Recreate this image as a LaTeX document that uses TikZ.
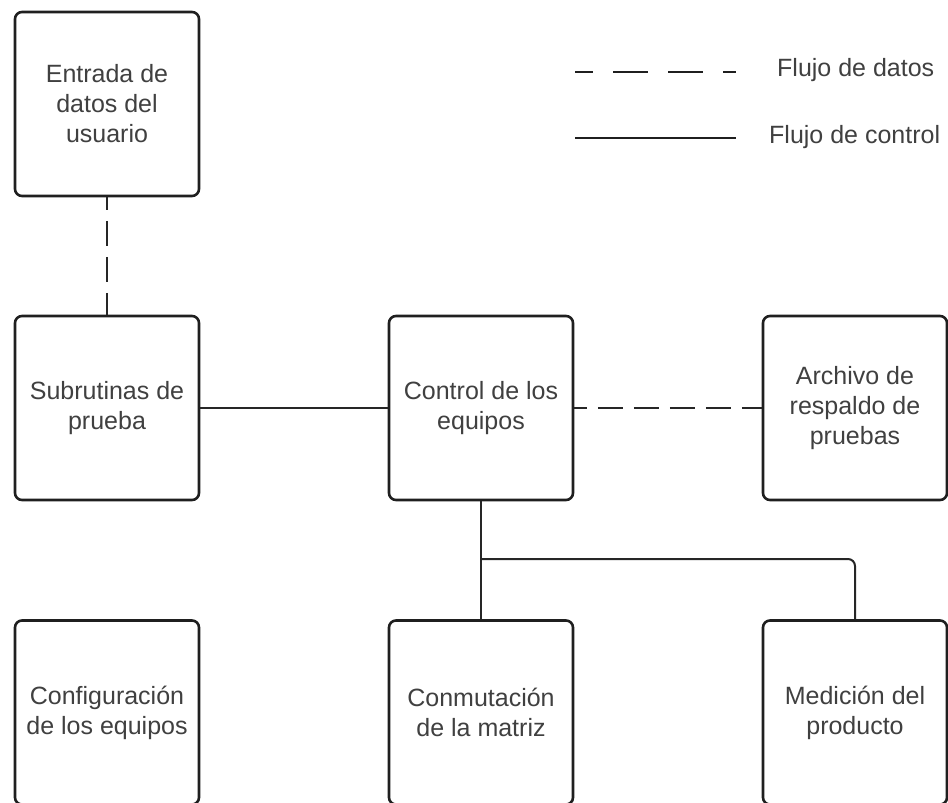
\documentclass[tikz,border=0pt]{standalone}
\usepackage{fontspec}
\setmainfont{Liberation Sans}
\begin{document}
\begin{tikzpicture}[x=1pt,y=-1pt,
  box/.style={draw=black!88, line width=2.6pt, rounded corners=7pt, fill=white,
    minimum width=184pt, minimum height=184pt, inner sep=0pt, align=center,
    text=black!75, font=\fontsize{25}{30}\selectfont},
  ctrl/.style={draw=black!85, line width=2pt},
  datos/.style={draw=black!85, line width=2pt, dash pattern=on 25pt off 11pt, dash phase=12.5pt},
  legdatos/.style={draw=black!88, line width=2.8pt, dash pattern=on 35pt off 20pt, dash phase=17pt},
  lbl/.style={anchor=west, inner sep=0pt, text=black!75, font=\fontsize{25}{30}\selectfont}]
\useasboundingbox (0,0) rectangle (948,803);
\clip (0,0) rectangle (948,803);

% process boxes
\node[box] (entrada) at (107,104) {Entrada de\\datos del\\usuario};
\node[box] (sub)     at (107,408) {Subrutinas de\\prueba};
\node[box] (ctl)     at (481,408) {Control de los\\equipos};
\node[box] (arch)    at (855,408) {Archivo de\\respaldo de\\pruebas};
\node[box] (conf)    at (107,712.5) {Configuración\\de los equipos};
\node[box] (conm)    at (481,712.5) {Conmutación\\de la matriz};
\node[box] (med)     at (855,712.5) {Medición del\\producto};

% connectors
\draw[datos] (entrada.south) -- (sub.north);
\draw[ctrl] (sub.east) -- (ctl.west);
\draw[datos] (ctl.east) -- (arch.west);
\draw[ctrl] (ctl.south) -- (conm.north);
\coordinate (j) at (481,559);
\draw[ctrl, rounded corners=7pt] (j) -| (med.north);

% legend
\coordinate (la) at (575,72);
\coordinate (lb) at (736,72);
\coordinate (lc) at (575,138);
\coordinate (ld) at (736,138);
\draw[legdatos] (la) -- (lb);
\draw[draw=black!88, line width=2.8pt] (lc) -- (ld);
\node[lbl] (tdatos) at (777,70) {Flujo de datos};
\node[lbl] (tctrl) at (769,137) {Flujo de control};
\end{tikzpicture}
\end{document}
